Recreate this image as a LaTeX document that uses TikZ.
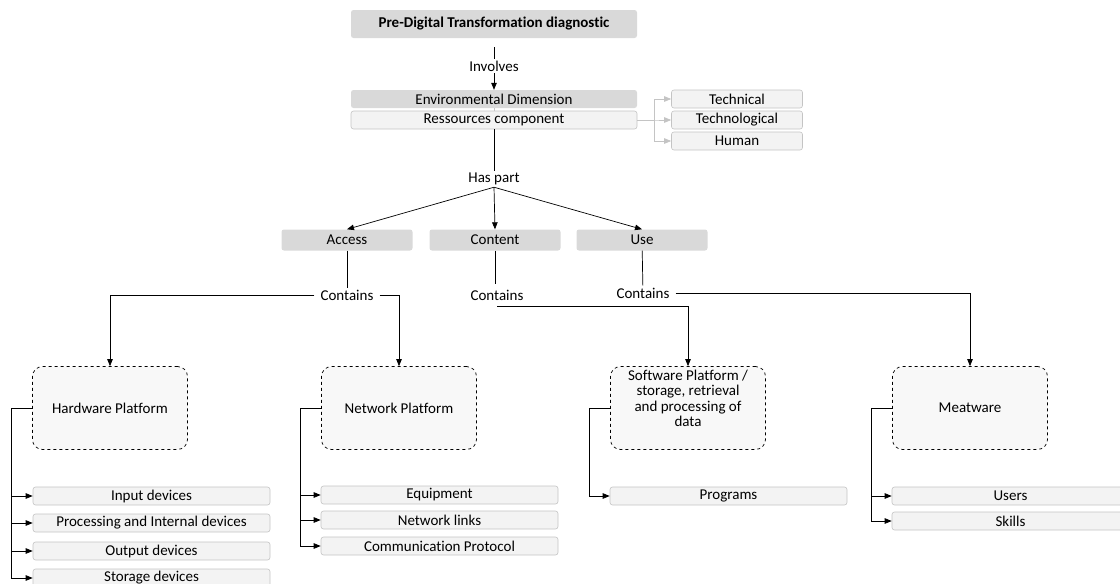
\documentclass[tikz,border=0pt]{standalone}
\usepackage{fontspec}
\setmainfont{Carlito}[Ligatures=CommonOff]
\usetikzlibrary{arrows.meta}
\definecolor{boxgray}{HTML}{D9D9D9}
\definecolor{litefill}{HTML}{F3F3F3}
\definecolor{liteline}{HTML}{C4C4C4}
\begin{document}
\begin{tikzpicture}[x=1pt,y=-1pt,
  every node/.style={font=\fontsize{15}{15.3}\selectfont},
  graybox/.style={fill=boxgray, rounded corners=2.5pt, inner sep=0pt},
  litebox/.style={fill=litefill, draw=liteline, line width=0.6pt, rounded corners=2.5pt, inner sep=0pt},
  platbox/.style={draw=black, dashed, line width=0.7pt, fill=litefill!60, rounded corners=10pt,
     minimum width=155, minimum height=83, inner sep=0pt, align=center},
  lbl/.style={inner xsep=6pt, inner ysep=2pt},
  conn/.style={draw=black, line width=0.7pt},
  arr/.style={conn, -{Triangle[length=7pt,width=5.5pt]}},
  garr/.style={draw=liteline, line width=0.7pt, -{Triangle[length=7pt,width=5.5pt]}},
  item/.style={litebox, minimum width=237, minimum height=18}
]
\useasboundingbox (0,0) rectangle (1120,584);
% top
\node[graybox, minimum width=286, minimum height=28, font=\fontsize{15}{15.3}\selectfont\bfseries] (top) at (494,24) {Pre-Digital Transformation diagnostic};
\node[lbl] (inv) at (494,66) {Involves};
\node[graybox, minimum width=286, minimum height=18] (env) at (494,99) {Environmental Dimension};
\node[litebox, minimum width=286, minimum height=18] (res) at (494,120) {Ressources component};
\node[litebox, minimum width=131, minimum height=18] (tech) at (737,99) {Technical};
\node[litebox, minimum width=131, minimum height=18] (techno) at (737,120) {Technological};
\node[litebox, minimum width=131, minimum height=18] (hum) at (737,141) {Human};
\node[lbl] (hp) at (494,179) {Has part};
\node[graybox, minimum width=131, minimum height=21] (acc) at (347,240) {Access};
\node[graybox, minimum width=131, minimum height=21] (cont) at (495,240) {Content};
\node[graybox, minimum width=131, minimum height=21] (use) at (642,240) {Use};
\node[lbl] (c1) at (347,295) {Contains};
\node[lbl, inner ysep=5.5pt] (c2) at (497,295) {Contains};
\node[lbl] (c3) at (643,293) {Contains};
% platforms
\node[platbox] (hw) at (110,408) {Hardware Platform};
\node[platbox] (nw) at (399,408) {Network Platform};
\node[platbox] (sw) at (688,408) {Software Platform /\\storage, retrieval\\and processing of\\data\\[4pt]\mbox{}};
\node[platbox] (mw) at (970,408) {Meatware};
% items
\node[item] (i1) at (151.5,496) {Input devices};
\node[item] (i2) at (151.5,523) {Processing and Internal devices};
\node[item] (i3) at (151.5,551) {Output devices};
\node[item] (i4) at (151.5,578) {Storage devices};
\node[item] (n1) at (439.5,495) {Equipment};
\node[item] (n2) at (439.5,520) {Network links};
\node[item] (n3) at (439.5,546) {Communication Protocol};
\node[item] (p1) at (728.5,496) {Programs};
\node[item] (u1) at (1010.5,496) {Users};
\node[item] (u2) at (1010.5,521) {Skills};
% connectors
\draw[conn, shorten <=9pt] (top) -- (inv);
\draw[arr] (inv) -- (env);
\draw[draw=liteline, line width=0.6pt] (env) -- (res);
\foreach \t in {tech,techno,hum} \draw[garr] (res.east) -- ++(17,0) |- (\t.west);
\draw[conn] (res) -- (hp);
\foreach \t in {acc,cont,use} \draw[arr] (hp.south) -- (\t.north);
\draw[conn] (acc) -- (c1);
\draw[conn] (cont.south) -- (cont.south |- c2.north);
\draw[conn] (use) -- (c3);
\draw[arr] (c1.west) -| (hw.north);
\draw[arr] (c1.east) -| (nw.north);
\draw[arr] (c2.south) -| (sw.north);
\draw[arr] (c3.east) -| (mw.north);
\foreach \t in {i1,i2,i3,i4} \draw[arr] (hw.west) -- ++(-21,0) |- (\t.west);
\foreach \t in {n1,n2,n3} \draw[arr] (nw.west) -- ++(-21,0) |- (\t.west);
\draw[arr] (sw.west) -- ++(-21,0) |- (p1.west);
\foreach \t in {u1,u2} \draw[arr] (mw.west) -- ++(-21,0) |- (\t.west);
\end{tikzpicture}
\end{document}
